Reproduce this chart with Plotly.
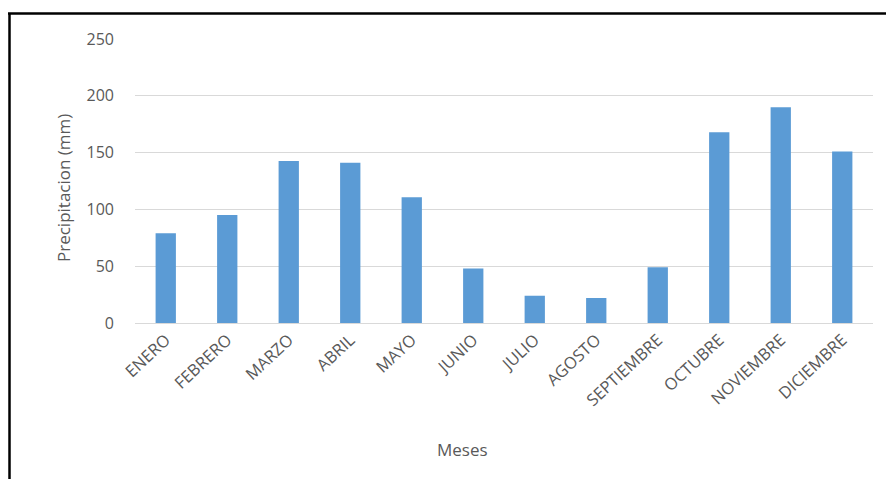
import plotly.graph_objects as go

meses = ["ENERO", "FEBRERO", "MARZO", "ABRIL", "MAYO", "JUNIO", "JULIO",
         "AGOSTO", "SEPTIEMBRE", "OCTUBRE", "NOVIEMBRE", "DICIEMBRE"]
precipitacion = [79, 95, 142.6, 141, 110.6, 48, 24, 22, 49, 168, 190, 151]
y_ticks = [0, 50, 100, 150, 200, 250]

OFF = 8  # page body margin
W, H = 894 - OFF, 479 - OFF
# target plot area in screenshot pixels
X0, X1, Y0, Y1 = 135, 873, 39, 323
L, R, T, B = X0 - OFF, (894 - X1), Y0 - OFF, (479 - Y1)

def px(x):
    return (x - X0) / (X1 - X0)

def py(y):
    return (Y1 - y) / (Y1 - Y0)

font_fam = "'Open Sans', Lato, sans-serif"
gray = "#595959"

fig = go.Figure(go.Bar(x=meses, y=precipitacion, marker_color="#5B9BD5",
                       marker_line_width=0))

fig.update_layout(
    width=W, height=H,
    margin=dict(l=L, r=R, t=T, b=B, autoexpand=False),
    paper_bgcolor="white", plot_bgcolor="white",
    bargap=0.67, showlegend=False,
    font=dict(family=font_fam, color=gray, size=13),
)
fig.update_xaxes(tickangle=-43, showgrid=False, showline=True,
                 linecolor="#D9D9D9", linewidth=1, ticks="",
                 tickfont=dict(size=16.5, color=gray))
fig.update_yaxes(range=[0, 250], tickvals=y_ticks, showgrid=True,
                 gridcolor="#D9D9D9", gridwidth=1, zeroline=False,
                 showline=False, ticks="", ticklabelstandoff=20,
                 tickfont=dict(size=16, color=gray))

fig.add_annotation(text="Meses", xref="paper", yref="paper",
                   x=px(462), y=py(449), showarrow=False,
                   xanchor="center", yanchor="middle",
                   font=dict(size=17, color=gray, family=font_fam))
fig.add_annotation(text="Precipitacion (mm)", xref="paper", yref="paper",
                   x=px(63), y=py(188), showarrow=False, textangle=-90,
                   xanchor="center", yanchor="middle",
                   font=dict(size=17, color=gray, family=font_fam))

# frame lines (top and left)
fig.add_shape(type="line", xref="paper", yref="paper",
              x0=px(8), x1=px(900), y0=py(13.5), y1=py(13.5),
              line=dict(color="black", width=2.5))
fig.add_shape(type="line", xref="paper", yref="paper",
              x0=px(9.5), x1=px(9.5), y0=py(13.5), y1=py(490),
              line=dict(color="black", width=2.5))

fig.write_html("out.html")
